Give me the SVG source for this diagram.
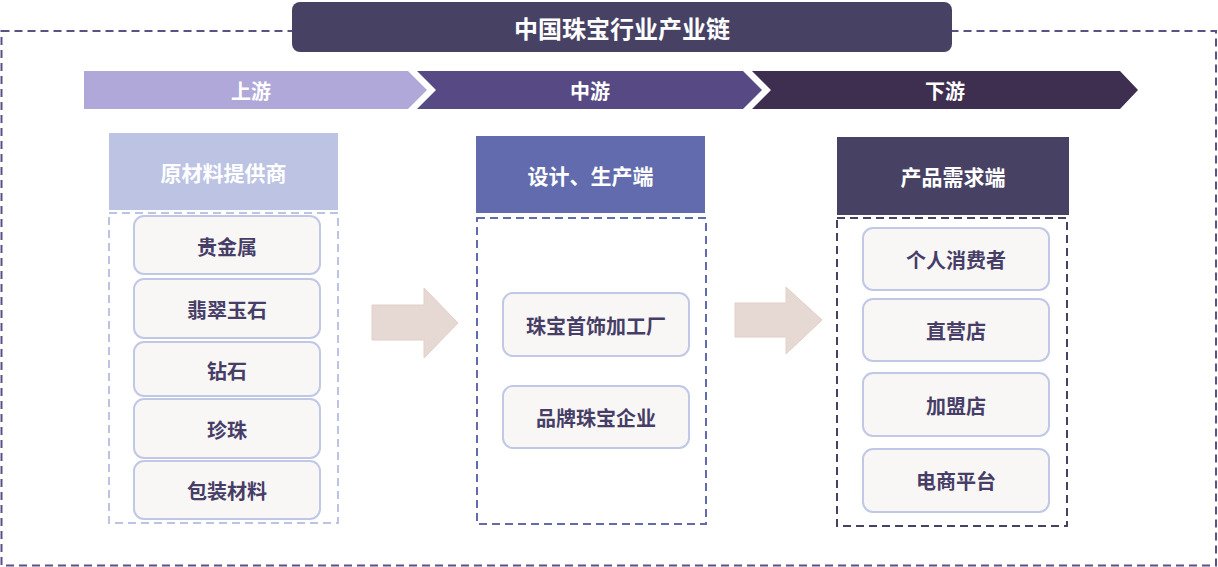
<svg xmlns="http://www.w3.org/2000/svg" width="1218" height="567" viewBox="0 0 1218 567">
<style>
text{font-family:"Noto Sans CJK SC","Noto Sans",sans-serif;font-weight:bold;text-anchor:middle;dominant-baseline:central}
.w{fill:#ffffff}
.t{fill:#463e66;font-size:20px}
.hd{font-size:21px}
.item{fill:#f9f7f6;stroke:#c1c8e6;stroke-width:2}
.big{fill:#e6d8d3;stroke:#e2d0c9;stroke-width:1}
</style>
<rect x="1.5" y="31" width="1214.5" height="534.5" fill="none" stroke="#5d5084" stroke-width="2" stroke-dasharray="8 5"/>
<g id="title">
<rect x="292" y="2" width="660" height="50" rx="8" fill="#474264"/>
<text class="w" x="622" y="27" font-size="24">中国珠宝行业产业链</text>
</g>
<g id="bands">
<g id="band-up"><polygon points="84,71 408,71 427,90 408,109 84,109" fill="#b0a8d8"/><text class="w" x="251" y="90" font-size="20">上游</text></g>
<g id="band-mid"><polygon points="417,71 743,71 762,90 743,109 417,109 436,90" fill="#574a84"/><text class="w" x="590" y="90" font-size="20">中游</text></g>
<g id="band-down"><polygon points="752,71 1120,71 1138,90 1120,109 752,109 771,90" fill="#3e2f50"/><text class="w" x="945" y="90" font-size="20">下游</text></g>
</g>
<g id="col1">
<rect x="109" y="133" width="229" height="77" fill="#bcc3e3"/>
<text class="w hd" x="223.5" y="172">原材料提供商</text>
<rect x="109" y="213" width="229" height="310" fill="none" stroke="#bcc3e3" stroke-width="2" stroke-dasharray="8 5"/>
<g id="n-gold"><rect class="item" x="134" y="216" width="186" height="58" rx="10"/><text class="t" x="227" y="246">贵金属</text></g>
<g id="n-jade"><rect class="item" x="134" y="279" width="186" height="59" rx="10"/><text class="t" x="227" y="309">翡翠玉石</text></g>
<g id="n-diamond"><rect class="item" x="134" y="342" width="186" height="54" rx="10"/><text class="t" x="227" y="370">钻石</text></g>
<g id="n-pearl"><rect class="item" x="134" y="399" width="186" height="59" rx="10"/><text class="t" x="227" y="429">珍珠</text></g>
<g id="n-pack"><rect class="item" x="134" y="461" width="186" height="58" rx="10"/><text class="t" x="227" y="490">包装材料</text></g>
</g>
<g id="col2">
<rect x="476" y="136" width="229" height="77" fill="#616bad"/>
<text class="w hd" x="590.5" y="175">设计、生产端</text>
<rect x="477" y="218" width="229" height="306" fill="none" stroke="#616bad" stroke-width="2" stroke-dasharray="8 5"/>
<g id="n-factory"><rect class="item" x="503" y="293" width="186" height="63" rx="10"/><text class="t" x="596" y="325">珠宝首饰加工厂</text></g>
<g id="n-brand"><rect class="item" x="503" y="386" width="186" height="62" rx="10"/><text class="t" x="596" y="417">品牌珠宝企业</text></g>
</g>
<g id="col3">
<rect x="837" y="137" width="232" height="78" fill="#474264"/>
<text class="w hd" x="953" y="176">产品需求端</text>
<rect x="837" y="218" width="230" height="308" fill="none" stroke="#474264" stroke-width="2" stroke-dasharray="8 5"/>
<g id="n-consumer"><rect class="item" x="863" y="228" width="186" height="62" rx="10"/><text class="t" x="956" y="259">个人消费者</text></g>
<g id="n-direct"><rect class="item" x="863" y="299" width="186" height="62" rx="10"/><text class="t" x="956" y="330">直营店</text></g>
<g id="n-franchise"><rect class="item" x="863" y="373" width="186" height="63" rx="10"/><text class="t" x="956" y="405">加盟店</text></g>
<g id="n-ecom"><rect class="item" x="863" y="449" width="186" height="63" rx="10"/><text class="t" x="956" y="480">电商平台</text></g>
</g>
<g id="connectors">
<polygon class="big" points="372,305 424,305 424,288 458,323 424,358 424,340 372,340"/>
<polygon class="big" points="735,303 786,303 786,287 822,320 786,354 786,337 735,337"/>
</g>
</svg>
